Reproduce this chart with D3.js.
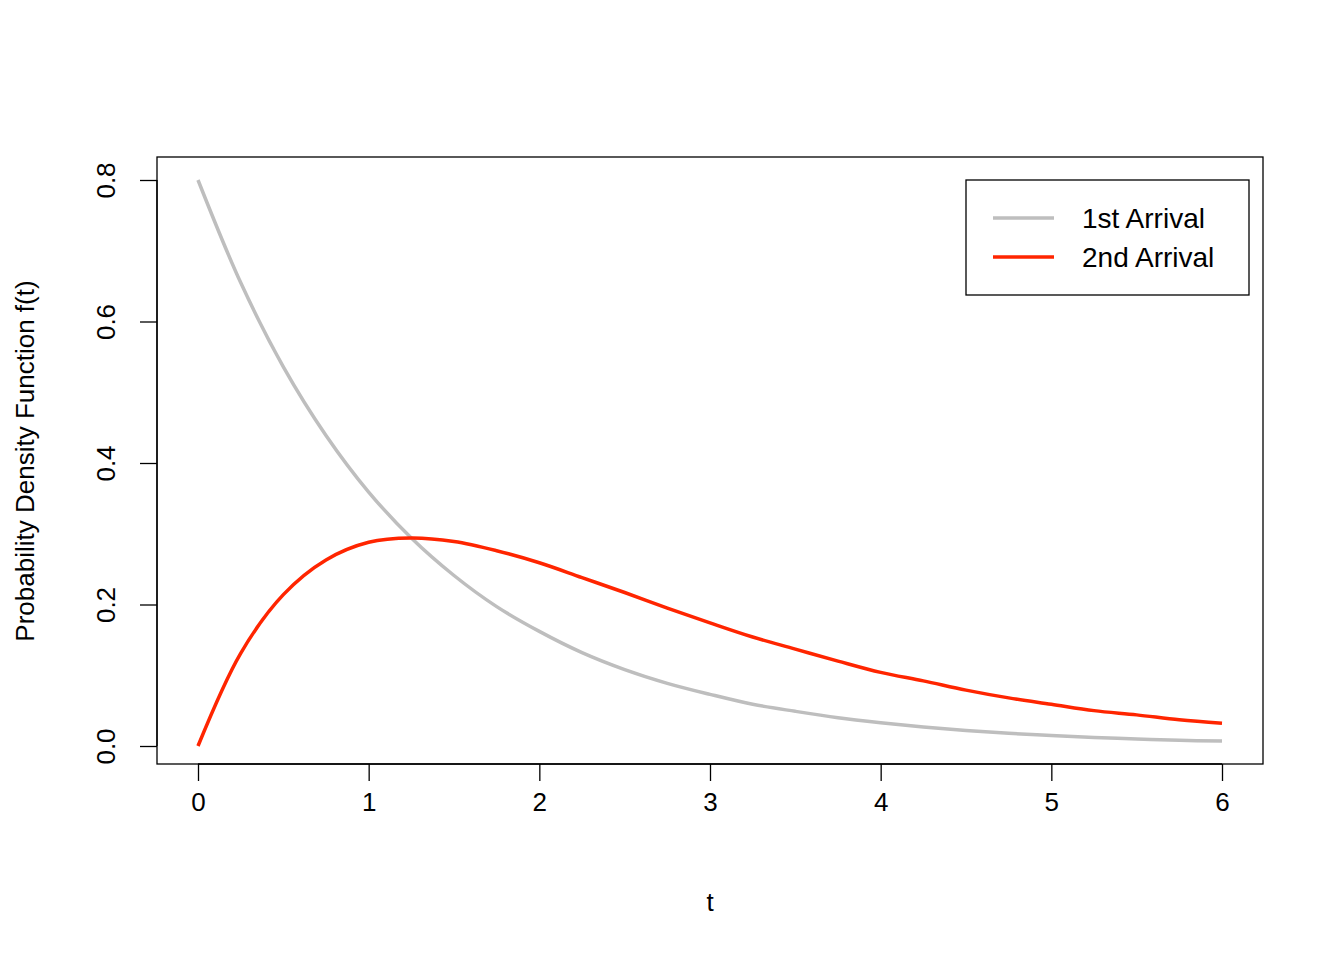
<!DOCTYPE html>
<html><head><meta charset="utf-8">
<script src="https://cdn.jsdelivr.net/npm/d3@7"></script>
<style>body{margin:0;background:#fff}text{font-family:"Liberation Sans",Arial,sans-serif;fill:#000}</style>
</head><body><svg id="c" width="1344" height="960"></svg>
<script>
const tValues = [0,0.25,0.5,0.75,1,1.25,1.5,1.75,2,2.25,2.5,2.75,3,3.25,3.5,3.75,4,4.25,4.5,4.75,5,5.25,5.5,5.75,6];
const firstArrival = [0.8,0.655,0.536,0.439,0.359,0.294,0.241,0.197,0.162,0.132,0.108,0.0886,0.073,0.059,0.049,0.040,0.033,0.027,0.022,0.018,0.015,0.012,0.010,0.008,0.007];
const secondArrival = [0,0.131,0.214,0.263,0.288,0.294,0.289,0.276,0.259,0.238,0.217,0.195,0.174,0.154,0.137,0.120,0.104,0.092,0.079,0.068,0.059,0.050,0.044,0.037,0.032];
const xTicks = [0,1,2,3,4,5,6];
const yTicks = [0,0.2,0.4,0.6,0.8];
const seriesNames = ["1st Arrival","2nd Arrival"];
const seriesColors = ["#bebebe","#ff2500"];

const svg = d3.select("#c");
const x = d3.scaleLinear().domain([0,6]).range([198,1222]);
const y = d3.scaleLinear().domain([0,0.8]).range([746,180]);

svg.append("rect").attr("x",157).attr("y",157).attr("width",1106).attr("height",607)
  .attr("fill","none").attr("stroke","#000").attr("stroke-width",1.3);

const xa = svg.append("g").attr("transform","translate(0,764)")
  .call(d3.axisBottom(x).tickValues(xTicks).tickSize(17).tickPadding(12).tickFormat(d3.format("d")));
xa.select(".domain").attr("d","M198,0H1222").attr("stroke-width",1.3);
xa.selectAll("line").attr("stroke-width",1.3);
xa.selectAll("text").attr("font-size",26);

const ya = svg.append("g").attr("transform","translate(157,0)")
  .call(d3.axisLeft(y).tickValues(yTicks).tickSize(17).tickFormat(d3.format(".1f")));
ya.select(".domain").attr("d","M0,180V746").attr("stroke-width",1.3);
ya.selectAll("line").attr("stroke-width",1.3);
ya.selectAll("text").attr("font-size",26).attr("x",0).attr("dy",0)
  .attr("text-anchor","middle").attr("transform","translate(-42,0) rotate(-90)");

svg.append("text").attr("x",710).attr("y",911).attr("text-anchor","middle").attr("font-size",26).text("t");
svg.append("text").attr("transform","translate(34,461) rotate(-90)").attr("text-anchor","middle")
  .attr("font-size",26).text("Probability Density Function f(t)");

const line = d3.line().x((d,i)=>x(tValues[i])).y(d=>y(d)).curve(d3.curveCatmullRom);
[firstArrival,secondArrival].forEach((s,k)=>{
  svg.append("path").attr("d",line(s)).attr("fill","none")
    .attr("stroke",seriesColors[k]).attr("stroke-width",3.5);
});

const lg = svg.append("g");
lg.append("rect").attr("x",966).attr("y",180).attr("width",283).attr("height",115)
  .attr("fill","#fff").attr("stroke","#000").attr("stroke-width",1.3);
seriesNames.forEach((n,i)=>{
  const yy = 218 + i*39;
  lg.append("line").attr("x1",993).attr("x2",1054).attr("y1",yy).attr("y2",yy)
    .attr("stroke",seriesColors[i]).attr("stroke-width",3.5);
  lg.append("text").attr("x",1082).attr("y",yy+10).attr("font-size",28).text(n);
});
</script></body></html>
